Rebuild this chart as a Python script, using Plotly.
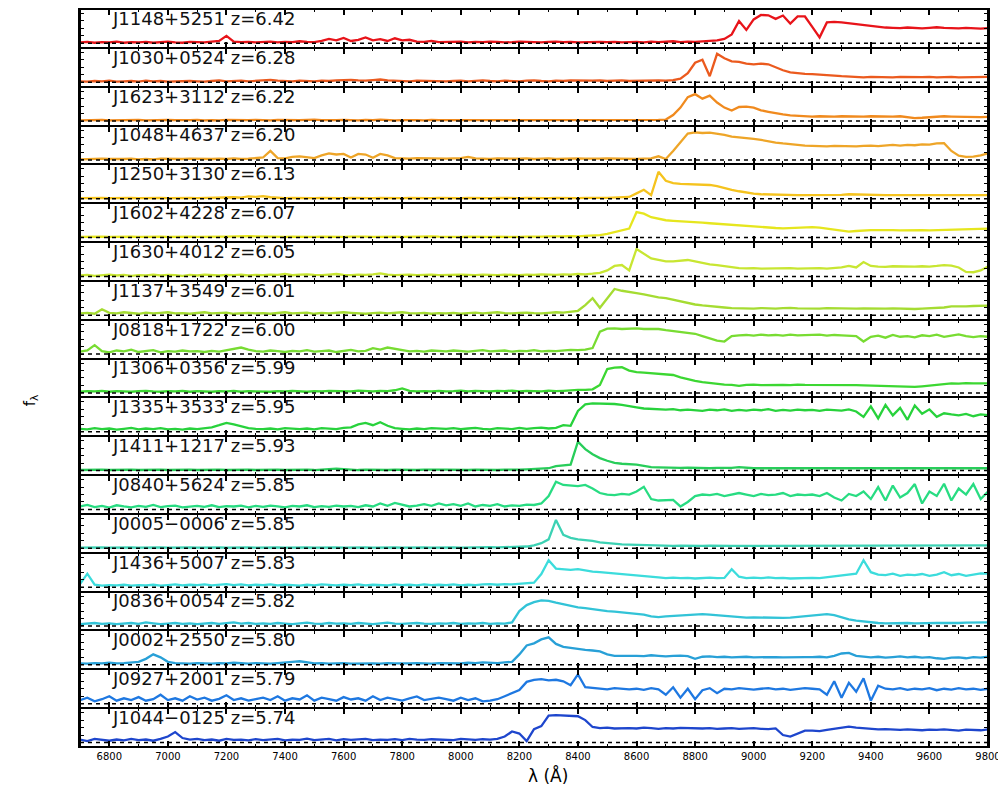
import plotly.graph_objects as go
from plotly.subplots import make_subplots

# Wavelength bins (Angstrom), 25 A wide, 6700..9800
WAVE = list(range(6700, 9801, 25))

NAMES = ["J1148+5251", "J1030+0524", "J1623+3112", "J1048+4637", "J1250+3130",
         "J1602+4228", "J1630+4012", "J1137+3549", "J0818+1722", "J1306+0356",
         "J1335+3533", "J1411+1217", "J0840+5624", "J0005\u22120006", "J1436+5007",
         "J0836+0054", "J0002+2550", "J0927+2001", "J1044\u22120125"]
REDSHIFTS = [6.42, 6.28, 6.22, 6.20, 6.13, 6.07, 6.05, 6.01, 6.00, 5.99,
             5.95, 5.93, 5.85, 5.85, 5.83, 5.82, 5.80, 5.79, 5.74]
COLORS = ["#e8141a", "#eb5a1e", "#f08a1e", "#eea528", "#f5c31e", "#e6e61e",
          "#c8e632", "#a5dc32", "#78dc32", "#3cd732", "#28d23c", "#28cd5a",
          "#28dc82", "#3cd2b4", "#3cdcdc", "#32c3d7", "#28a0d7", "#1e78e1", "#1e46cd"]
X_TICKS = [6800, 7000, 7200, 7400, 7600, 7800, 8000, 8200, 8400, 8600,
           8800, 9000, 9200, 9400, 9600, 9800]

F_J1148 = [0.03,0.05,0.02,0.04,0.03,0.06,0.02,0.04,0.03,0.05,0.02,0.04,0.06,0.03,0.02,0.05,0.04,0.03,0.06,0.08,0.25,0.06,0.04,0.05,0.03,
           0.04,0.06,0.03,0.05,0.04,0.07,0.05,0.04,0.08,0.15,0.1,0.18,0.08,0.12,0.2,0.1,0.14,0.08,0.17,0.1,0.12,0.06,0.05,0.08,0.04,
           0.05,0.04,0.06,0.03,0.05,0.04,0.06,0.05,0.03,0.04,0.06,0.05,0.04,0.03,0.05,0.06,0.04,0.05,0.03,0.04,0.06,0.05,0.04,0.05,0.03,
           0.04,0.05,0.03,0.06,0.04,0.05,0.07,0.04,0.06,0.05,0.06,0.08,0.1,0.15,0.3,0.75,0.45,0.8,0.95,0.94,0.82,0.93,0.66,0.9,0.9,
           0.55,0.2,0.7,0.72,0.7,0.67,0.63,0.6,0.57,0.55,0.53,0.52,0.51,0.53,0.52,0.5,0.52,0.54,0.52,0.51,0.5,0.52,0.5,0.49,0.51]
F_J1030 = [0.03,0.02,0.04,0.03,0.05,0.02,0.03,0.04,0.02,0.05,0.03,0.04,0.02,0.03,0.05,0.04,0.03,0.02,0.04,0.06,0.03,0.04,0.05,0.03,0.04,
           0.06,0.08,0.05,0.04,0.03,0.05,0.04,0.03,0.05,0.04,0.06,0.07,0.08,0.06,0.05,0.07,0.09,0.06,0.05,0.04,0.03,0.05,0.04,0.03,0.04,
           0.03,0.04,0.05,0.03,0.04,0.06,0.04,0.03,0.05,0.04,0.03,0.05,0.06,0.04,0.03,0.05,0.04,0.06,0.05,0.04,0.05,0.06,0.04,0.05,0.06,
           0.04,0.05,0.04,0.05,0.06,0.05,0.07,0.12,0.3,0.65,0.75,0.2,0.95,0.8,0.7,0.68,0.62,0.6,0.62,0.6,0.5,0.4,0.33,0.3,0.28,
           0.27,0.26,0.25,0.22,0.2,0.18,0.17,0.16,0.18,0.17,0.15,0.16,0.18,0.17,0.16,0.17,0.18,0.16,0.17,0.18,0.16,0.17,0.16,0.17,0.18]
F_J1623 = [0.02,0.03,0.02,0.04,0.02,0.03,0.02,0.03,0.04,0.02,0.03,0.02,0.04,0.03,0.02,0.03,0.04,0.02,0.03,0.02,0.04,0.03,0.02,0.03,0.04,
           0.03,0.02,0.04,0.03,0.02,0.03,0.04,0.05,0.03,0.02,0.03,0.04,0.03,0.02,0.04,0.03,0.05,0.03,0.02,0.03,0.04,0.03,0.02,0.04,0.03,
           0.03,0.02,0.03,0.04,0.02,0.03,0.04,0.03,0.02,0.03,0.04,0.03,0.02,0.04,0.03,0.02,0.03,0.04,0.03,0.02,0.03,0.04,0.03,0.02,0.03,
           0.03,0.03,0.04,0.03,0.04,0.05,0.2,0.45,0.8,0.9,0.75,0.85,0.62,0.45,0.35,0.47,0.48,0.45,0.36,0.31,0.26,0.22,0.19,0.17,0.16,
           0.15,0.16,0.15,0.15,0.16,0.15,0.14,0.15,0.16,0.15,0.14,0.15,0.16,0.12,0.1,0.11,0.13,0.15,0.16,0.15,0.14,0.15,0.14,0.13,0.14]
F_J1048 = [0.02,0.03,0.02,0.04,0.03,0.02,0.03,0.04,0.02,0.03,0.02,0.04,0.03,0.02,0.03,0.04,0.03,0.02,0.03,0.04,0.03,0.05,0.03,0.04,0.05,
           0.08,0.3,0.06,0.05,0.1,0.12,0.1,0.06,0.15,0.22,0.18,0.2,0.08,0.2,0.18,0.07,0.2,0.15,0.06,0.05,0.04,0.06,0.05,0.04,0.05,
           0.04,0.05,0.06,0.1,0.05,0.04,0.03,0.05,0.04,0.03,0.04,0.05,0.03,0.04,0.05,0.03,0.04,0.03,0.05,0.04,0.03,0.04,0.05,0.04,0.03,
           0.04,0.03,0.04,0.05,0.12,0.03,0.3,0.6,0.88,0.92,0.9,0.91,0.88,0.84,0.78,0.76,0.73,0.7,0.67,0.62,0.58,0.55,0.52,0.5,0.48,
           0.47,0.46,0.45,0.47,0.46,0.44,0.45,0.47,0.48,0.46,0.49,0.5,0.48,0.5,0.49,0.52,0.51,0.55,0.56,0.3,0.14,0.1,0.11,0.15,0.22]
F_J1250 = [0.02,0.03,0.02,0.03,0.02,0.03,0.02,0.03,0.02,0.03,0.02,0.03,0.02,0.03,0.02,0.03,0.02,0.03,0.02,0.03,0.04,0.05,0.04,0.08,0.06,
           0.09,0.05,0.03,0.02,0.03,0.02,0.03,0.02,0.03,0.02,0.03,0.02,0.03,0.02,0.03,0.02,0.03,0.02,0.03,0.02,0.03,0.02,0.03,0.02,0.03,
           0.02,0.03,0.02,0.03,0.02,0.03,0.02,0.03,0.02,0.03,0.02,0.03,0.02,0.03,0.02,0.03,0.02,0.03,0.02,0.03,0.02,0.03,0.03,0.04,0.05,
           0.06,0.18,0.3,0.12,0.9,0.6,0.52,0.5,0.49,0.48,0.48,0.46,0.42,0.35,0.3,0.25,0.2,0.17,0.15,0.14,0.13,0.12,0.12,0.12,0.12,
           0.12,0.12,0.12,0.13,0.13,0.15,0.14,0.13,0.12,0.12,0.12,0.12,0.12,0.12,0.12,0.12,0.12,0.12,0.12,0.12,0.12,0.12,0.12,0.12,0.12]
F_J1602 = [0.02,0.03,0.02,0.03,0.02,0.03,0.02,0.03,0.02,0.03,0.02,0.03,0.02,0.03,0.02,0.03,0.02,0.03,0.02,0.03,0.03,0.04,0.03,0.05,0.04,
           0.03,0.04,0.03,0.02,0.03,0.02,0.03,0.02,0.03,0.02,0.03,0.02,0.03,0.04,0.03,0.02,0.03,0.02,0.03,0.02,0.03,0.02,0.03,0.04,0.03,
           0.02,0.03,0.02,0.03,0.02,0.03,0.02,0.03,0.02,0.03,0.02,0.03,0.02,0.03,0.04,0.03,0.04,0.05,0.04,0.06,0.07,0.08,0.12,0.18,0.22,
           0.3,0.85,0.8,0.68,0.62,0.58,0.56,0.55,0.54,0.53,0.5,0.48,0.46,0.44,0.43,0.42,0.4,0.38,0.35,0.33,0.32,0.31,0.32,0.33,0.34,
           0.35,0.33,0.3,0.27,0.23,0.2,0.22,0.24,0.25,0.25,0.26,0.25,0.24,0.25,0.26,0.25,0.24,0.25,0.26,0.27,0.28,0.29,0.3,0.3,0.3]
F_J1630 = [0.03,0.05,0.02,0.04,0.06,0.03,0.05,0.02,0.04,0.03,0.06,0.03,0.05,0.04,0.02,0.05,0.03,0.06,0.04,0.03,0.05,0.04,0.06,0.03,0.05,
           0.04,0.06,0.05,0.08,0.04,0.06,0.07,0.05,0.04,0.06,0.08,0.05,0.04,0.06,0.05,0.07,0.1,0.06,0.04,0.05,0.06,0.04,0.05,0.06,0.04,
           0.05,0.04,0.06,0.05,0.04,0.06,0.05,0.04,0.06,0.05,0.04,0.06,0.05,0.07,0.06,0.05,0.07,0.06,0.08,0.07,0.09,0.12,0.2,0.35,0.38,
           0.2,0.92,0.75,0.6,0.55,0.5,0.5,0.53,0.55,0.5,0.45,0.4,0.38,0.34,0.3,0.28,0.27,0.28,0.26,0.27,0.28,0.27,0.28,0.26,0.27,
           0.27,0.28,0.26,0.28,0.3,0.35,0.3,0.48,0.35,0.33,0.32,0.34,0.33,0.32,0.33,0.34,0.33,0.35,0.38,0.36,0.3,0.15,0.14,0.2,0.33]
F_J1137 = [0.06,0.08,0.05,0.2,0.08,0.06,0.1,0.07,0.05,0.09,0.06,0.08,0.1,0.06,0.07,0.05,0.08,0.1,0.06,0.07,0.09,0.05,0.07,0.08,0.06,
           0.07,0.05,0.08,0.1,0.06,0.07,0.09,0.05,0.08,0.06,0.07,0.1,0.08,0.06,0.05,0.07,0.09,0.06,0.08,0.1,0.07,0.06,0.08,0.05,0.07,
           0.06,0.08,0.05,0.07,0.09,0.06,0.08,0.1,0.07,0.06,0.08,0.09,0.07,0.06,0.08,0.1,0.09,0.12,0.15,0.34,0.57,0.25,0.57,0.88,0.82,
           0.79,0.74,0.7,0.64,0.6,0.57,0.52,0.46,0.4,0.36,0.33,0.3,0.28,0.26,0.24,0.23,0.23,0.22,0.24,0.23,0.22,0.24,0.25,0.23,0.22,
           0.23,0.22,0.24,0.23,0.22,0.21,0.22,0.23,0.22,0.21,0.22,0.23,0.22,0.22,0.21,0.22,0.23,0.24,0.26,0.3,0.29,0.3,0.31,0.32,0.32]
F_J0818 = [0.08,0.12,0.3,0.1,0.06,0.12,0.09,0.15,0.07,0.1,0.13,0.06,0.1,0.08,0.12,0.09,0.1,0.07,0.11,0.08,0.12,0.18,0.22,0.15,0.1,
           0.08,0.12,0.1,0.07,0.11,0.09,0.13,0.08,0.1,0.12,0.07,0.1,0.14,0.09,0.11,0.2,0.15,0.22,0.18,0.12,0.09,0.11,0.08,0.12,0.1,
           0.09,0.12,0.1,0.08,0.11,0.13,0.09,0.1,0.12,0.08,0.11,0.1,0.13,0.09,0.11,0.1,0.12,0.14,0.13,0.15,0.2,0.75,0.85,0.86,0.84,
           0.85,0.86,0.84,0.85,0.84,0.8,0.77,0.75,0.73,0.68,0.6,0.53,0.45,0.42,0.6,0.63,0.64,0.62,0.65,0.63,0.64,0.62,0.65,0.63,0.64,
           0.63,0.65,0.62,0.64,0.63,0.62,0.6,0.42,0.58,0.62,0.55,0.64,0.58,0.6,0.56,0.63,0.6,0.65,0.58,0.62,0.66,0.6,0.57,0.6,0.58]
F_J1306 = [0.04,0.06,0.05,0.07,0.04,0.06,0.05,0.04,0.06,0.07,0.05,0.04,0.06,0.05,0.07,0.04,0.06,0.05,0.04,0.06,0.05,0.07,0.04,0.06,0.05,
           0.05,0.04,0.06,0.05,0.07,0.05,0.04,0.06,0.05,0.07,0.06,0.04,0.05,0.08,0.06,0.05,0.07,0.06,0.09,0.15,0.07,0.05,0.06,0.05,0.07,
           0.05,0.06,0.08,0.05,0.07,0.06,0.05,0.07,0.06,0.08,0.05,0.07,0.06,0.05,0.08,0.06,0.07,0.09,0.1,0.1,0.12,0.27,0.8,0.85,0.86,
           0.75,0.7,0.68,0.66,0.66,0.64,0.6,0.52,0.45,0.4,0.36,0.33,0.3,0.28,0.27,0.24,0.27,0.28,0.26,0.27,0.28,0.27,0.26,0.28,0.27,
           0.27,0.26,0.28,0.27,0.26,0.27,0.26,0.25,0.24,0.23,0.22,0.21,0.22,0.21,0.2,0.22,0.24,0.27,0.3,0.32,0.31,0.33,0.32,0.31,0.32]
F_J1335 = [0.1,0.08,0.12,0.09,0.11,0.07,0.1,0.13,0.08,0.11,0.09,0.12,0.08,0.1,0.07,0.11,0.09,0.12,0.15,0.22,0.3,0.25,0.18,0.12,0.1,
           0.09,0.11,0.08,0.12,0.1,0.09,0.11,0.08,0.12,0.1,0.09,0.13,0.15,0.25,0.3,0.22,0.32,0.2,0.12,0.1,0.08,0.11,0.09,0.12,0.1,
           0.1,0.12,0.09,0.11,0.13,0.1,0.08,0.12,0.11,0.09,0.13,0.1,0.12,0.14,0.11,0.13,0.22,0.2,0.7,0.92,0.95,0.94,0.95,0.93,0.9,
           0.85,0.82,0.78,0.76,0.75,0.74,0.76,0.72,0.74,0.73,0.7,0.74,0.72,0.75,0.7,0.73,0.71,0.74,0.72,0.76,0.7,0.73,0.71,0.74,0.72,
           0.73,0.7,0.74,0.72,0.71,0.75,0.68,0.5,0.85,0.45,0.9,0.55,0.8,0.4,0.88,0.6,0.75,0.5,0.62,0.58,0.55,0.6,0.52,0.58,0.56]
F_J1411 = [0.02,0.03,0.02,0.03,0.02,0.03,0.02,0.03,0.02,0.03,0.02,0.03,0.02,0.03,0.02,0.03,0.02,0.03,0.02,0.03,0.02,0.03,0.02,0.03,0.02,
           0.03,0.02,0.03,0.02,0.03,0.02,0.03,0.02,0.03,0.05,0.07,0.05,0.03,0.02,0.03,0.02,0.03,0.02,0.03,0.02,0.03,0.02,0.03,0.02,0.03,
           0.03,0.02,0.03,0.02,0.03,0.02,0.03,0.02,0.03,0.02,0.03,0.04,0.05,0.06,0.08,0.15,0.18,0.2,0.97,0.72,0.55,0.42,0.33,0.26,0.23,
           0.22,0.2,0.16,0.12,0.11,0.1,0.1,0.09,0.1,0.09,0.09,0.08,0.09,0.08,0.09,0.12,0.09,0.08,0.08,0.09,0.08,0.08,0.09,0.08,0.08,
           0.08,0.08,0.09,0.08,0.08,0.09,0.08,0.08,0.08,0.09,0.08,0.08,0.08,0.09,0.08,0.08,0.09,0.08,0.08,0.08,0.09,0.08,0.08,0.09,0.08]
F_J0840 = [0.1,0.15,0.08,0.12,0.06,0.14,0.1,0.07,0.12,0.09,0.15,0.08,0.11,0.13,0.07,0.1,0.12,0.09,0.14,0.08,0.11,0.1,0.13,0.07,0.12,
           0.09,0.13,0.1,0.07,0.12,0.1,0.14,0.08,0.11,0.09,0.13,0.1,0.12,0.08,0.14,0.1,0.2,0.12,0.22,0.15,0.1,0.13,0.18,0.12,0.2,
           0.14,0.18,0.12,0.2,0.1,0.15,0.12,0.18,0.1,0.14,0.12,0.16,0.15,0.2,0.45,0.93,0.82,0.8,0.78,0.82,0.7,0.55,0.5,0.48,0.52,
           0.5,0.6,0.76,0.35,0.3,0.3,0.32,0.1,0.25,0.45,0.5,0.48,0.52,0.45,0.5,0.55,0.5,0.45,0.52,0.48,0.5,0.55,0.45,0.5,0.48,
           0.5,0.45,0.55,0.4,0.3,0.52,0.45,0.6,0.35,0.75,0.3,0.8,0.4,0.55,0.85,0.2,0.6,0.45,0.86,0.3,0.7,0.5,0.85,0.35,0.6]
F_J0005 = [0.02,0.03,0.02,0.03,0.02,0.03,0.02,0.03,0.02,0.03,0.02,0.03,0.02,0.03,0.02,0.03,0.02,0.03,0.02,0.03,0.02,0.03,0.02,0.03,0.02,
           0.03,0.02,0.03,0.02,0.03,0.02,0.03,0.02,0.03,0.02,0.03,0.02,0.03,0.02,0.03,0.02,0.03,0.02,0.03,0.02,0.03,0.02,0.03,0.02,0.03,
           0.02,0.03,0.02,0.03,0.02,0.03,0.04,0.03,0.04,0.05,0.04,0.06,0.1,0.17,0.3,0.95,0.45,0.35,0.3,0.28,0.25,0.2,0.17,0.15,0.13,
           0.12,0.11,0.1,0.1,0.09,0.09,0.08,0.09,0.08,0.08,0.08,0.09,0.08,0.08,0.08,0.08,0.08,0.08,0.08,0.08,0.08,0.08,0.08,0.08,0.08,
           0.08,0.08,0.08,0.08,0.08,0.08,0.08,0.08,0.08,0.08,0.08,0.08,0.08,0.08,0.08,0.08,0.08,0.08,0.08,0.08,0.08,0.08,0.08,0.09,0.1]
F_J1436 = [0.1,0.45,0.08,0.05,0.07,0.06,0.08,0.05,0.07,0.06,0.08,0.05,0.07,0.09,0.06,0.08,0.07,0.09,0.06,0.08,0.1,0.07,0.09,0.06,0.08,
           0.07,0.09,0.06,0.08,0.07,0.05,0.08,0.06,0.09,0.07,0.06,0.08,0.07,0.09,0.06,0.08,0.07,0.06,0.09,0.07,0.08,0.06,0.09,0.07,0.08,
           0.07,0.09,0.06,0.08,0.07,0.09,0.1,0.08,0.1,0.09,0.11,0.13,0.15,0.44,0.9,0.62,0.6,0.58,0.6,0.55,0.52,0.5,0.48,0.47,0.45,
           0.42,0.4,0.38,0.36,0.33,0.3,0.32,0.3,0.31,0.29,0.3,0.32,0.3,0.31,0.6,0.35,0.3,0.32,0.3,0.33,0.3,0.31,0.29,0.3,0.32,
           0.31,0.3,0.33,0.38,0.4,0.42,0.45,0.9,0.5,0.42,0.4,0.45,0.38,0.42,0.4,0.44,0.38,0.42,0.5,0.4,0.44,0.38,0.42,0.46,0.45]
F_J0836 = [0.06,0.08,0.1,0.07,0.09,0.06,0.08,0.1,0.07,0.12,0.09,0.06,0.08,0.1,0.07,0.09,0.06,0.08,0.1,0.07,0.09,0.12,0.08,0.1,0.07,
           0.09,0.07,0.1,0.08,0.06,0.09,0.11,0.08,0.07,0.1,0.08,0.09,0.07,0.1,0.08,0.06,0.09,0.11,0.08,0.07,0.09,0.1,0.08,0.07,0.09,
           0.08,0.1,0.07,0.09,0.08,0.1,0.07,0.09,0.08,0.12,0.5,0.7,0.8,0.86,0.84,0.78,0.72,0.68,0.62,0.6,0.56,0.53,0.5,0.48,0.46,
           0.44,0.42,0.38,0.32,0.3,0.32,0.34,0.36,0.38,0.4,0.4,0.38,0.36,0.33,0.3,0.3,0.28,0.29,0.28,0.27,0.28,0.27,0.28,0.3,0.32,
           0.35,0.38,0.4,0.36,0.28,0.22,0.18,0.15,0.12,0.1,0.09,0.1,0.09,0.1,0.09,0.1,0.09,0.1,0.1,0.09,0.1,0.11,0.12,0.13,0.12]
F_J0002 = [0.05,0.04,0.06,0.05,0.07,0.05,0.06,0.08,0.1,0.2,0.35,0.25,0.1,0.06,0.05,0.04,0.06,0.05,0.04,0.06,0.05,0.07,0.05,0.04,0.06,
           0.05,0.04,0.06,0.07,0.1,0.12,0.08,0.05,0.06,0.04,0.05,0.06,0.04,0.05,0.06,0.05,0.04,0.06,0.05,0.04,0.05,0.06,0.05,0.04,0.06,
           0.05,0.06,0.05,0.07,0.06,0.08,0.07,0.06,0.08,0.1,0.35,0.65,0.72,0.85,0.92,0.7,0.6,0.56,0.52,0.5,0.48,0.45,0.35,0.3,0.3,
           0.31,0.3,0.29,0.32,0.3,0.28,0.3,0.31,0.29,0.2,0.27,0.28,0.26,0.27,0.25,0.26,0.27,0.25,0.26,0.27,0.26,0.25,0.26,0.27,0.26,
           0.26,0.27,0.25,0.3,0.38,0.4,0.3,0.28,0.25,0.27,0.24,0.26,0.28,0.25,0.27,0.24,0.26,0.22,0.2,0.24,0.25,0.22,0.26,0.24,0.27]
F_J0927 = [0.12,0.2,0.08,0.15,0.25,0.1,0.18,0.12,0.22,0.1,0.15,0.3,0.12,0.18,0.1,0.25,0.14,0.2,0.1,0.16,0.28,0.12,0.18,0.1,0.15,
           0.2,0.12,0.25,0.1,0.18,0.14,0.28,0.1,0.2,0.15,0.1,0.22,0.14,0.18,0.1,0.25,0.12,0.2,0.15,0.1,0.18,0.24,0.12,0.16,0.2,
           0.15,0.1,0.2,0.12,0.18,0.08,0.1,0.15,0.25,0.35,0.46,0.73,0.8,0.82,0.78,0.8,0.75,0.62,0.98,0.55,0.52,0.5,0.48,0.52,0.5,
           0.48,0.5,0.46,0.52,0.48,0.3,0.55,0.2,0.5,0.15,0.45,0.52,0.35,0.5,0.48,0.52,0.5,0.47,0.5,0.52,0.48,0.5,0.46,0.5,0.52,
           0.5,0.48,0.3,0.75,0.2,0.7,0.4,0.85,0.1,0.6,0.5,0.48,0.52,0.46,0.5,0.48,0.52,0.45,0.5,0.47,0.52,0.48,0.5,0.46,0.5]
F_J1044 = [0.1,0.05,0.12,0.08,0.06,0.1,0.07,0.12,0.08,0.1,0.06,0.12,0.2,0.35,0.15,0.1,0.12,0.08,0.1,0.06,0.12,0.09,0.1,0.07,0.11,
           0.08,0.1,0.12,0.07,0.1,0.09,0.13,0.08,0.1,0.12,0.07,0.11,0.09,0.1,0.12,0.08,0.1,0.09,0.11,0.08,0.12,0.1,0.09,0.11,0.1,
           0.1,0.08,0.12,0.1,0.09,0.11,0.1,0.12,0.2,0.37,0.3,0.05,0.45,0.55,0.9,0.92,0.9,0.9,0.88,0.75,0.52,0.48,0.5,0.47,0.48,
           0.48,0.47,0.5,0.48,0.46,0.48,0.47,0.49,0.48,0.46,0.47,0.48,0.46,0.47,0.48,0.46,0.47,0.48,0.46,0.45,0.47,0.25,0.2,0.3,0.4,
           0.4,0.38,0.42,0.45,0.5,0.53,0.5,0.48,0.46,0.44,0.45,0.43,0.42,0.44,0.42,0.41,0.43,0.42,0.44,0.42,0.4,0.43,0.42,0.41,0.44]

FLUXES = [F_J1148, F_J1030, F_J1623, F_J1048, F_J1250, F_J1602, F_J1630, F_J1137,
          F_J0818, F_J1306, F_J1335, F_J1411, F_J0840, F_J0005, F_J1436, F_J0836,
          F_J0002, F_J0927, F_J1044]

for nm, f in zip(NAMES, FLUXES):
    assert len(f) == len(WAVE), (nm, len(f))

N = len(NAMES)
fig = make_subplots(rows=N, cols=1, shared_xaxes=True, vertical_spacing=0)

FONT = "DejaVu Sans"
for i in range(N):
    r = i + 1
    fig.add_trace(go.Scatter(x=WAVE, y=FLUXES[i], mode="lines",
                             line=dict(color=COLORS[i], width=2.3),
                             showlegend=False, hoverinfo="skip"), row=r, col=1)
    fig.add_hline(y=0, line=dict(color="black", width=1.5, dash="4px,4px"), row=r, col=1)
    sfx = "" if r == 1 else str(r)
    fig.add_annotation(text=f"{NAMES[i]} z={REDSHIFTS[i]:.2f}",
                       xref=f"x{sfx} domain", yref=f"y{sfx} domain",
                       x=0.033, y=0.76, xanchor="left", yanchor="middle",
                       showarrow=False,
                       font=dict(family=FONT, size=18, color="#111111"))

fig.update_xaxes(range=[6700, 9800], tickmode="array", tickvals=X_TICKS,
                 ticktext=[str(t) for t in X_TICKS],
                 ticks="inside", ticklen=6, tickwidth=1.5, tickcolor="black",
                 showline=True, linewidth=1.1, linecolor="black", mirror="ticks",
                 showgrid=False, zeroline=False, ticklabeloverflow="allow",
                 automargin=False,
                 minor=dict(tickmode="linear", tick0=6700, dtick=100, ticks="inside",
                            ticklen=3, tickwidth=1.2, tickcolor="black", showgrid=False),
                 tickfont=dict(family=FONT, size=10, color="black"))
fig.update_yaxes(range=[-0.15, 1.15], tick0=0, dtick=0.25, ticks="inside", ticklen=4,
                 tickwidth=1.2, tickcolor="black", showline=True, linewidth=2.2,
                 linecolor="black", mirror="ticks", showgrid=False, zeroline=False,
                 showticklabels=False, automargin=False)

# outer frame of the stacked panels
fig.add_shape(type="rect", xref="paper", yref="paper", x0=0, x1=1, y0=0, y1=1,
              line=dict(color="black", width=2), fillcolor="rgba(0,0,0,0)")

fig.add_annotation(text="\u03bb (\u00c5)", xref="paper", yref="paper",
                   x=0.515, y=-0.038, xanchor="center", yanchor="middle",
                   showarrow=False, font=dict(family=FONT, size=17, color="black"))
fig.add_annotation(text="f<sub>\u03bb</sub>", xref="paper", yref="paper",
                   x=-0.055, y=0.47, xanchor="center", yanchor="middle",
                   textangle=-90, showarrow=False,
                   font=dict(family=FONT, size=15, color="black"))

fig.update_layout(width=998, height=787, autosize=False,
                  margin=dict(l=80, r=10, t=9, b=40),
                  paper_bgcolor="white", plot_bgcolor="white",
                  showlegend=False)

fig.write_html("out.html", config={"displayModeBar": False},
               post_script="document.body.style.margin='0';document.body.style.padding='0';")
